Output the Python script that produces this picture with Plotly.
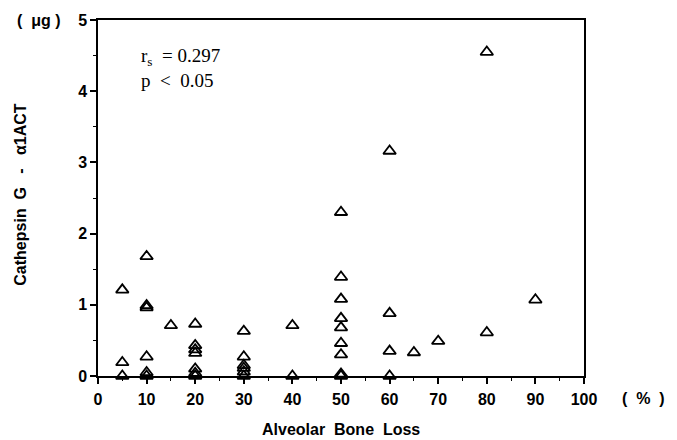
import plotly.graph_objects as go

# Alveolar bone loss (%) and Cathepsin G - a1ACT (ug)
bone_loss = [5, 5, 5,
             10, 10, 10, 10, 10, 10,
             15,
             20, 20, 20, 20, 20, 20, 20,
             30, 30, 30, 30, 30, 30,
             40, 40,
             50, 50, 50, 50, 50, 50, 50, 50, 50,
             60, 60, 60, 60,
             65, 70, 80, 80, 90]
cathepsin = [1.21, 0.19, 0.0,
             1.68, 0.99, 0.96, 0.27, 0.05, 0.0,
             0.71,
             0.73, 0.43, 0.37, 0.32, 0.10, 0.04, 0.0,
             0.63, 0.27, 0.15, 0.11, 0.06, 0.0,
             0.71, 0.0,
             2.30, 1.39, 1.08, 0.81, 0.68, 0.46, 0.30, 0.03, 0.0,
             3.16, 0.88, 0.35, 0.0,
             0.33, 0.49, 0.61, 4.55, 1.07]

x_ticks = [0, 10, 20, 30, 40, 50, 60, 70, 80, 90, 100]
y_ticks = [0, 1, 2, 3, 4, 5]

font_sans = "Liberation Sans, Arial, sans-serif"
font_serif = "Liberation Serif, Times New Roman, serif"

fig = go.Figure()
fig.add_trace(go.Scatter(
    x=bone_loss, y=cathepsin, mode="markers",
    marker=dict(symbol="triangle-up-open", size=11, color="black",
                line=dict(width=1.8, color="black")),
    cliponaxis=False, showlegend=False,
))

axis_common = dict(
    showgrid=False, zeroline=False, showline=True, linecolor="black",
    linewidth=1.5, mirror=True, ticks="outside", tickcolor="black",
    ticklen=6, tickwidth=1.5,
    tickfont=dict(family=font_sans, size=16, color="black", weight="bold"),
)
fig.update_xaxes(range=[0, 100], tickvals=x_ticks, ticktext=[str(v) for v in x_ticks],
                 minor=dict(ticks="outside", ticklen=3, tickcolor="black", dtick=5, tickwidth=1),
                 ticklabelstandoff=2, **axis_common)
fig.update_yaxes(range=[0, 5], tickvals=y_ticks, ticktext=[str(v) for v in y_ticks],
                 minor=dict(ticks="outside", ticklen=3, tickcolor="black", dtick=0.5, tickwidth=1),
                 ticklabelstandoff=0, **axis_common)

fig.update_layout(
    width=677, height=440,
    margin=dict(l=98, r=93, t=20, b=64),
    plot_bgcolor="white", paper_bgcolor="white",
    annotations=[
        dict(text="Alveolar  Bone  Loss", x=0.5, y=-0.12, xref="paper", yref="paper",
             xanchor="center", yanchor="top", showarrow=False,
             font=dict(family=font_sans, size=16, color="black", weight="bold")),
        dict(text="Cathepsin  G   -   α1ACT", x=-0.16, y=0.51, xref="paper", yref="paper",
             xanchor="center", yanchor="middle", textangle=-90, showarrow=False,
             font=dict(family=font_sans, size=16, color="black", weight="bold")),
        dict(text="(  μg )", x=-0.072, y=1.0, xref="paper", yref="paper",
             xanchor="right", yanchor="middle", showarrow=False,
             font=dict(family=font_sans, size=16, color="black", weight="bold")),
        dict(text="(  %  )", x=1.075, y=-0.062, xref="paper", yref="paper",
             xanchor="left", yanchor="middle", showarrow=False,
             font=dict(family=font_sans, size=16, color="black", weight="bold")),
        dict(text="r<sub>s</sub>  = 0.297<br>p  &lt;  0.05", x=0.085, y=0.935, xref="paper", yref="paper",
             xanchor="left", yanchor="top", align="left", showarrow=False,
             font=dict(family=font_serif, size=19, color="black")),
    ],
)

fig.write_html("out.html")
